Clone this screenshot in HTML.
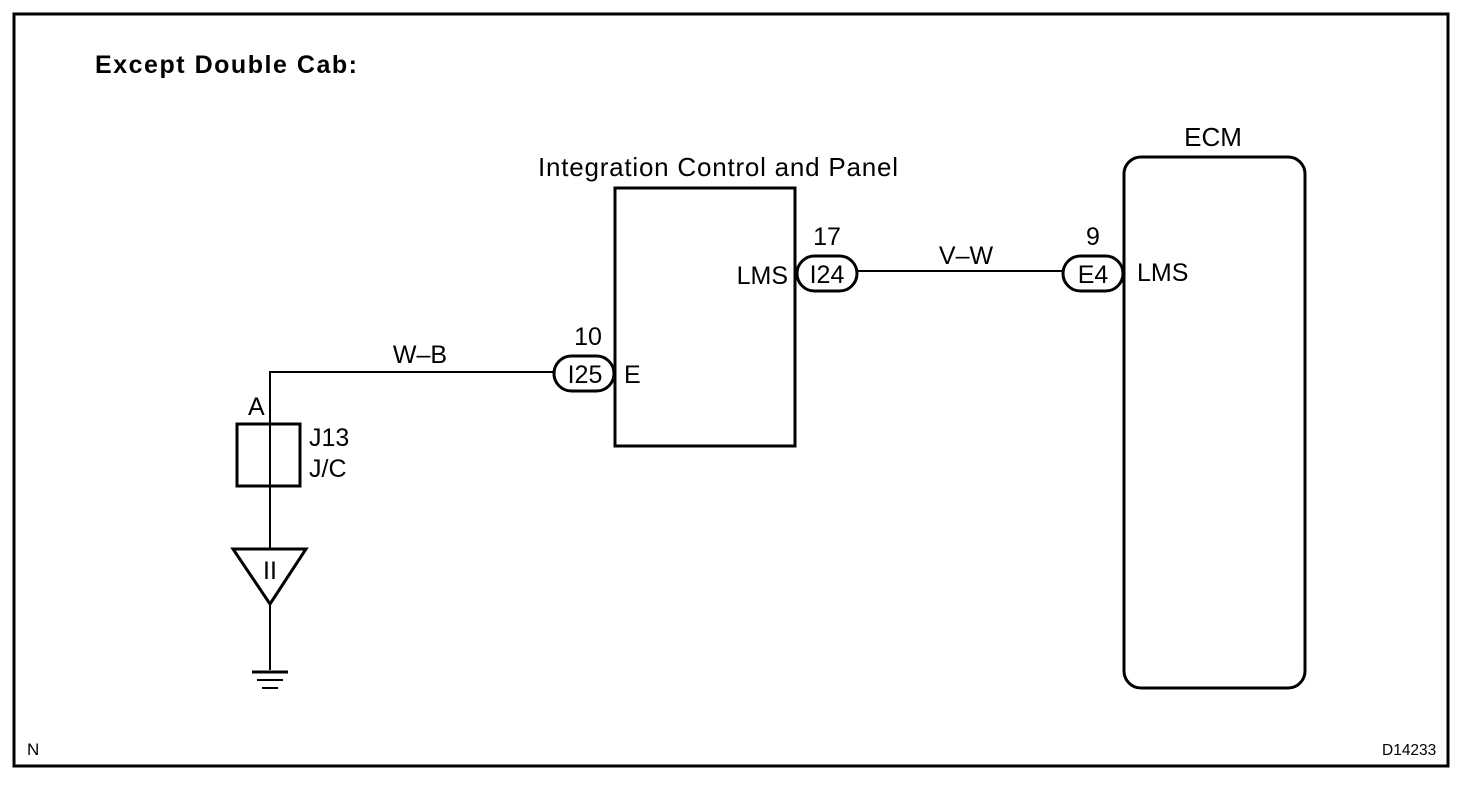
<!DOCTYPE html>
<html><head><style>
body{margin:0;background:#fff}
svg text{font-family:"Liberation Sans",Arial,sans-serif;fill:#000}
</style></head><body>
<svg width="1472" height="784" viewBox="0 0 1472 784" xmlns="http://www.w3.org/2000/svg">
<rect x="14" y="14" width="1434" height="752" fill="none" stroke="#000" stroke-width="3"/>
<text x="95" y="73" font-size="25" font-weight="bold" textLength="262">Except Double Cab:</text>
<text x="538" y="176" font-size="26" textLength="360">Integration Control and Panel</text>
<rect x="615" y="188" width="180" height="258" fill="none" stroke="#000" stroke-width="3"/>
<text x="1213" y="146" font-size="26" text-anchor="middle">ECM</text>
<rect x="1124" y="157" width="181" height="531" rx="17" fill="none" stroke="#000" stroke-width="3"/>
<line x1="857" y1="271" x2="1063" y2="271" stroke="#000" stroke-width="2"/>
<polyline points="554,372 270,372 270,670" fill="none" stroke="#000" stroke-width="2"/>
<rect x="797" y="256" width="60" height="35" rx="17.5" fill="#fff" stroke="#000" stroke-width="3"/>
<text x="827" y="283" font-size="25" text-anchor="middle">I24</text>
<text x="827" y="245" font-size="25" text-anchor="middle">17</text>
<text x="788" y="284" font-size="25" text-anchor="end">LMS</text>
<rect x="1063" y="256" width="60" height="35" rx="17.5" fill="#fff" stroke="#000" stroke-width="3"/>
<text x="1093" y="283" font-size="25" text-anchor="middle">E4</text>
<text x="1093" y="245" font-size="25" text-anchor="middle">9</text>
<text x="1137" y="281" font-size="25">LMS</text>
<text x="966" y="264" font-size="25" text-anchor="middle">V–W</text>
<rect x="554" y="356" width="60" height="35" rx="17.5" fill="#fff" stroke="#000" stroke-width="3"/>
<text x="585" y="383" font-size="25" text-anchor="middle">I25</text>
<text x="588" y="345" font-size="25" text-anchor="middle">10</text>
<text x="624" y="383" font-size="25">E</text>
<text x="420" y="363" font-size="25" text-anchor="middle">W–B</text>
<text x="248" y="415" font-size="25">A</text>
<rect x="237" y="424" width="63" height="62" fill="none" stroke="#000" stroke-width="3"/>
<text x="309" y="446" font-size="25">J13</text>
<text x="309" y="477" font-size="25">J/C</text>
<polygon points="233,549 306,549 270,604" fill="#fff" stroke="#000" stroke-width="3"/>
<text x="270" y="579" font-size="25" text-anchor="middle">II</text>
<line x1="270" y1="604" x2="270" y2="670" stroke="#000" stroke-width="2"/>
<line x1="252" y1="672" x2="288" y2="672" stroke="#000" stroke-width="3"/>
<line x1="257" y1="680" x2="283" y2="680" stroke="#000" stroke-width="2"/>
<line x1="262" y1="688" x2="278" y2="688" stroke="#000" stroke-width="2"/>
<text x="27" y="755" font-size="17">N</text>
<text x="1382" y="755" font-size="15.5">D14233</text>
</svg>
</body></html>
